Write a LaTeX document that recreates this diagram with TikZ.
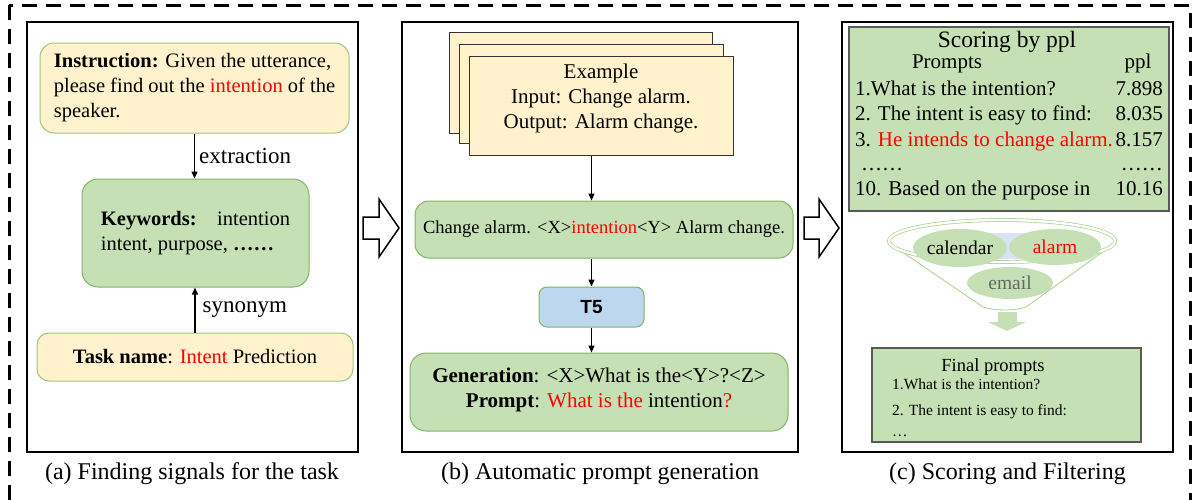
\documentclass[tikz,border=0pt]{standalone}
\usepackage{fontspec}
\setmainfont{Liberation Serif}
\newfontfamily\arialfont{Liberation Sans}
\usetikzlibrary{arrows.meta,shapes.geometric}
\definecolor{yel}{HTML}{FFF2CC}
\definecolor{grn}{HTML}{C5E0B4}
\definecolor{ybd}{HTML}{9DC77E}
\definecolor{gbd}{HTML}{82B366}
\definecolor{blu}{HTML}{BDD7EE}
\definecolor{blu2}{HTML}{DAE3F3}
\definecolor{fbd}{HTML}{A9D18E}
\definecolor{sbd}{HTML}{595959}
\newcommand{\fs}[2]{\fontsize{#1}{#2}\selectfont}
\tikzset{
  panel/.style={draw=black, line width=1.6, inner sep=0pt},
  ybox/.style={draw=ybd, fill=yel, rounded corners=14, line width=1, inner sep=0pt},
  gbox/.style={draw=gbd, fill=grn, rounded corners=16, line width=1, inner sep=0pt},
  exbox/.style={draw=black!80, fill=yel, line width=1, inner sep=0pt},
  sbox/.style={draw=sbd, fill=grn, line width=1.5, inner sep=0pt},
  txt/.style={inner sep=0pt, font=\fs{20.5}{25}},
  lbl/.style={inner sep=0pt, font=\fs{23}{26}},
  captxt/.style={inner sep=0pt, anchor=base, font=\fs{24}{28}},
  rowtxt/.style={inner sep=0pt, font=\fs{21}{25}},
  frow/.style={inner sep=0pt, font=\fs{15.5}{19}},
  arr/.style={-{Triangle[length=7,width=6]}, line width=1.3},
  hollow/.style={draw=black, fill=white, line width=1.5, line join=miter},
  ell/.style={ellipse, fill=grn, inner sep=0pt, font=\fs{19.5}{22}},
}
\begin{document}
\begin{tikzpicture}[x=1pt,y=-1pt]
\useasboundingbox (0,0) rectangle (1192,499);
% outer dashed frame
\begin{scope}
\clip (0,0) rectangle (1192,499);
\draw[line width=3, dash pattern=on 15 off 9] (9,5) rectangle (1190,530);
\end{scope}
% panels
\node[panel, minimum width=331, minimum height=430] (pa) at (192.5,237) {};
\node[panel, minimum width=396, minimum height=430] (pb) at (600,237) {};
\node[panel, minimum width=331, minimum height=430] (pc) at (1007.5,237) {};
% captions
\node[captxt] (capa) at (192,479) {(a) Finding signals for the task};
\node[captxt] (capb) at (600,479) {(b) Automatic prompt generation};
\node[captxt] (capc) at (1007.5,479) {(c) Scoring and Filtering};
% ---------- panel (a)
\node[ybox, txt, minimum width=309, minimum height=90, align=left] (ins) at (194.5,88)
  {\textbf{Instruction:} Given the utterance,\\please find out the \textcolor{red}{intention} of the\\speaker.};
\node[gbox, txt, minimum width=227, minimum height=108, align=left] (kw) at (195.5,233)
  {\textbf{Keywords:}\quad intention\\intent, purpose, \textbf{……}};
\node[ybox, txt, minimum width=316, minimum height=48, rounded corners=12] (task) at (195,357)
  {\textbf{Task name}: \textcolor{red}{Intent} Prediction};
\draw[arr] (ins.south) -- (ins.south |- kw.north) node[midway, right=4pt, lbl] {extraction};
\draw[arr] (task.north) -- (task.north |- kw.south) node[midway, right=7pt, lbl] {synonym};
% hollow arrows
\draw[hollow] (363,217) -- (379,217) -- (379,199) -- (399,228) -- (379,257) -- (379,239) -- (363,239) -- cycle;
\draw[hollow] (804,217) -- (819,217) -- (819,199) -- (839,228) -- (819,257) -- (819,239) -- (804,239) -- cycle;
% ---------- panel (b)
\node[exbox, minimum width=263, minimum height=101] (ex3) at (580.5,82.5) {};
\node[exbox, minimum width=264, minimum height=99] (ex2) at (591,93.5) {};
\node[exbox, minimum width=264, minimum height=99] (ex1) at (601,105.5) {};
\node[inner sep=0pt, font=\fs{21}{25}, align=center] (extxt) at (601,98)
  {Example\\Input: Change alarm.\\Output: Alarm change.};
\node[gbox, minimum width=378, minimum height=57, rounded corners=14, font=\fs{18.5}{22}] (chg) at (604,229.5)
  {Change alarm. <X>\textcolor{red}{intention}<Y> Alarm change.};
\node[draw=gbd, fill=blu, line width=1, rounded corners=8, minimum width=105, minimum height=40, inner sep=0pt,
  font=\arialfont\bfseries\fs{19}{22}] (t5) at (591.5,307) {T5};
\node[gbox, minimum width=378, minimum height=78, align=center, font=\fs{21}{25}] (gen) at (599,392)
  {\textbf{Generation}: <X>What is the<Y>?<Z>\\\textbf{Prompt}: \textcolor{red}{What is the} intention\textcolor{red}{?}\\[-16pt]\mbox{}};
\draw[arr] (ex1.south -| t5.north) -- (chg.north -| t5.north);
\draw[arr] (chg.south -| t5.north) -- (t5.north);
\draw[arr] (t5.south) -- (gen.north -| t5.south);
% ---------- panel (c)
\node[sbox, minimum width=320, minimum height=184] (sc) at (1009,119) {};
\node[inner sep=0pt, anchor=base, font=\fs{23.5}{26}] (sct) at (1007,47) {Scoring by ppl};
\node[rowtxt, anchor=base] (hp) at (947,68) {Prompts};
\node[rowtxt, anchor=base] (hq) at (1138,68) {ppl};
\node[rowtxt, anchor=base west] (r1) at (855,95) {1.What is the intention?};
\node[rowtxt, anchor=base west] (r2) at (855,120) {2. The intent is easy to find:};
\node[rowtxt, anchor=base west] (r3) at (855,146) {3. \textcolor{red}{He intends to change alarm.}};
\node[rowtxt, anchor=base west] (r4) at (861,170) {……};
\node[rowtxt, anchor=base west] (r5) at (855,195) {10. Based on the purpose in};
\node[rowtxt, anchor=base east] (v1) at (1163,95) {7.898};
\node[rowtxt, anchor=base east] (v2) at (1163,120) {8.035};
\node[rowtxt, anchor=base east] (v3) at (1163,146) {8.157};
\node[rowtxt, anchor=base east] (v4) at (1163,170) {……};
\node[rowtxt, anchor=base east] (v5) at (1163,195) {10.16};
% funnel
\fill[white] (889,243) -- (983,307) .. controls (995,311) and (1015,311) .. (1026,307) -- (1115,243) -- cycle;
\draw[fbd, line width=0.8] (889,243) -- (983,307) .. controls (995,311) and (1015,311) .. (1026,307) -- (1115,243);
\draw[fbd, double=white, double distance=2.4, line width=0.7, fill=white] (1002,241) ellipse [x radius=113, y radius=21];
\fill[blu2] (1006,246) ellipse [x radius=92, y radius=13];
\node[ell, minimum width=94, minimum height=38] (cal) at (960,248) {calendar};
\node[ell, minimum width=92, minimum height=36, text=red] (alm) at (1055,247) {alarm};
\node[ell, minimum width=86, minimum height=32, text=black!60] (eml) at (1010,283) {email};
\fill[grn] (998,312) -- (1017,312) -- (1017,322) -- (1026,322) -- (1007,331) -- (988,322) -- (998,322) -- cycle;
% final prompts
\node[sbox, minimum width=269, minimum height=94] (fin) at (1006.5,395) {};
\node[inner sep=0pt, anchor=base, font=\fs{18.5}{22}] (fint) at (993,371) {Final prompts};
\node[frow, anchor=base west] (f1) at (892,389) {1.What is the intention?};
\node[frow, anchor=base west] (f2) at (892,415) {2. The intent is easy to find:};
\node[frow, anchor=base west] (f3) at (892,436) {…};
\end{tikzpicture}
\end{document}
